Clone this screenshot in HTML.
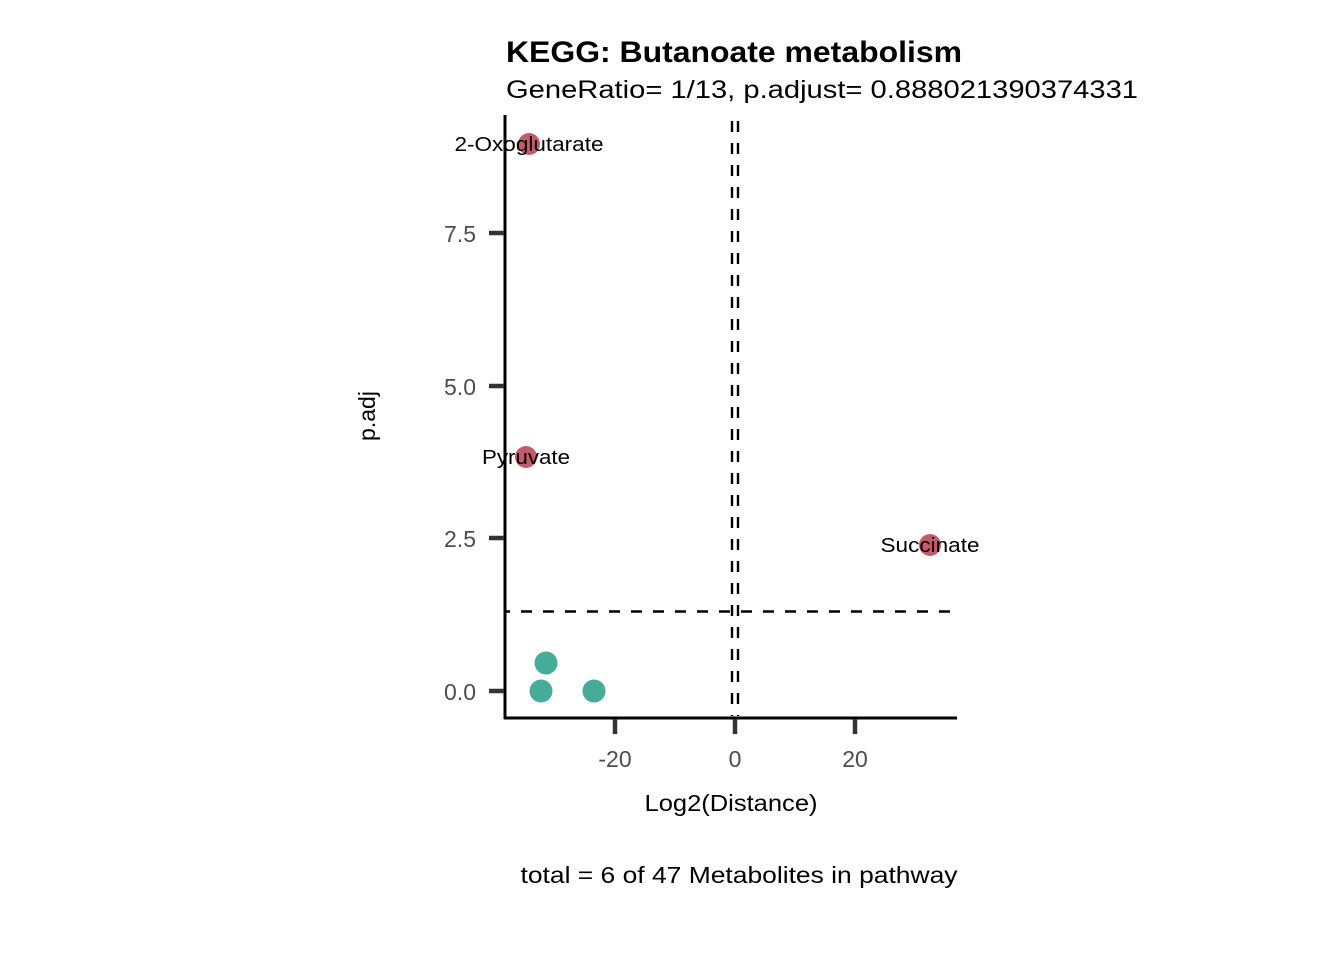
<!DOCTYPE html>
<html><head><meta charset="utf-8"><style>body{margin:0;background:#fff}svg{display:block}text{font-family:"Liberation Sans",Arial,sans-serif}</style></head>
<body>
<svg width="1344" height="960" viewBox="0 0 1344 960" xmlns="http://www.w3.org/2000/svg">
<rect width="1344" height="960" fill="#fff"/>
<text x="506" y="62" font-size="30" font-weight="bold" fill="#000" textLength="456" lengthAdjust="spacingAndGlyphs">KEGG: Butanoate metabolism</text>
<text x="506" y="98" font-size="25" fill="#000" textLength="632" lengthAdjust="spacingAndGlyphs">GeneRatio= 1/13, p.adjust= 0.888021390374331</text>
<g stroke="#000" stroke-width="2.4" fill="none" stroke-dasharray="11 11">
<line x1="505" y1="611.5" x2="950" y2="611.5" stroke-dashoffset="6"/>
<line x1="732" y1="115" x2="732" y2="716" stroke-dashoffset="-6"/>
<line x1="738" y1="115" x2="738" y2="716" stroke-dashoffset="-6"/>
</g>
<g fill="#C45A6A">
<circle cx="529" cy="144" r="11"/>
<circle cx="526" cy="457" r="11"/>
<circle cx="930" cy="545" r="11"/>
</g>
<g fill="#45AC9A">
<circle cx="546" cy="663" r="11.5"/>
<circle cx="541" cy="691" r="11.5"/>
<circle cx="594" cy="691" r="11.5"/>
</g>
<g font-size="20" fill="#000" text-anchor="middle">
<text x="529" y="151" textLength="149" lengthAdjust="spacingAndGlyphs">2-Oxoglutarate</text>
<text x="526" y="464" textLength="88" lengthAdjust="spacingAndGlyphs">Pyruvate</text>
<text x="930" y="552" textLength="99" lengthAdjust="spacingAndGlyphs">Succinate</text>
</g>
<line x1="505" y1="115" x2="505" y2="719" stroke="#000" stroke-width="3"/>
<line x1="504" y1="718" x2="957" y2="718" stroke="#000" stroke-width="3"/>
<g stroke="#333" stroke-width="4.5">
<line x1="489" y1="233" x2="504" y2="233"/>
<line x1="489" y1="386" x2="504" y2="386"/>
<line x1="489" y1="538" x2="504" y2="538"/>
<line x1="489" y1="691" x2="504" y2="691"/>
<line x1="615" y1="719" x2="615" y2="734"/>
<line x1="735" y1="719" x2="735" y2="734"/>
<line x1="855" y1="719" x2="855" y2="734"/>
</g>
<g font-size="23" fill="#4D4D4D" text-anchor="end">
<text x="476" y="242">7.5</text>
<text x="476" y="395">5.0</text>
<text x="476" y="547">2.5</text>
<text x="476" y="700">0.0</text>
</g>
<g font-size="23" fill="#4D4D4D" text-anchor="middle">
<text x="615" y="767">-20</text>
<text x="735" y="767">0</text>
<text x="855" y="767">20</text>
</g>
<text x="731" y="811" font-size="23" text-anchor="middle" fill="#000" textLength="173" lengthAdjust="spacingAndGlyphs">Log2(Distance)</text>
<text transform="translate(375,416) rotate(-90)" font-size="23" text-anchor="middle" fill="#000">p.adj</text>
<text x="739" y="883" font-size="23" text-anchor="middle" fill="#000" textLength="437" lengthAdjust="spacingAndGlyphs">total = 6 of 47 Metabolites in pathway</text>
</svg>
</body></html>
